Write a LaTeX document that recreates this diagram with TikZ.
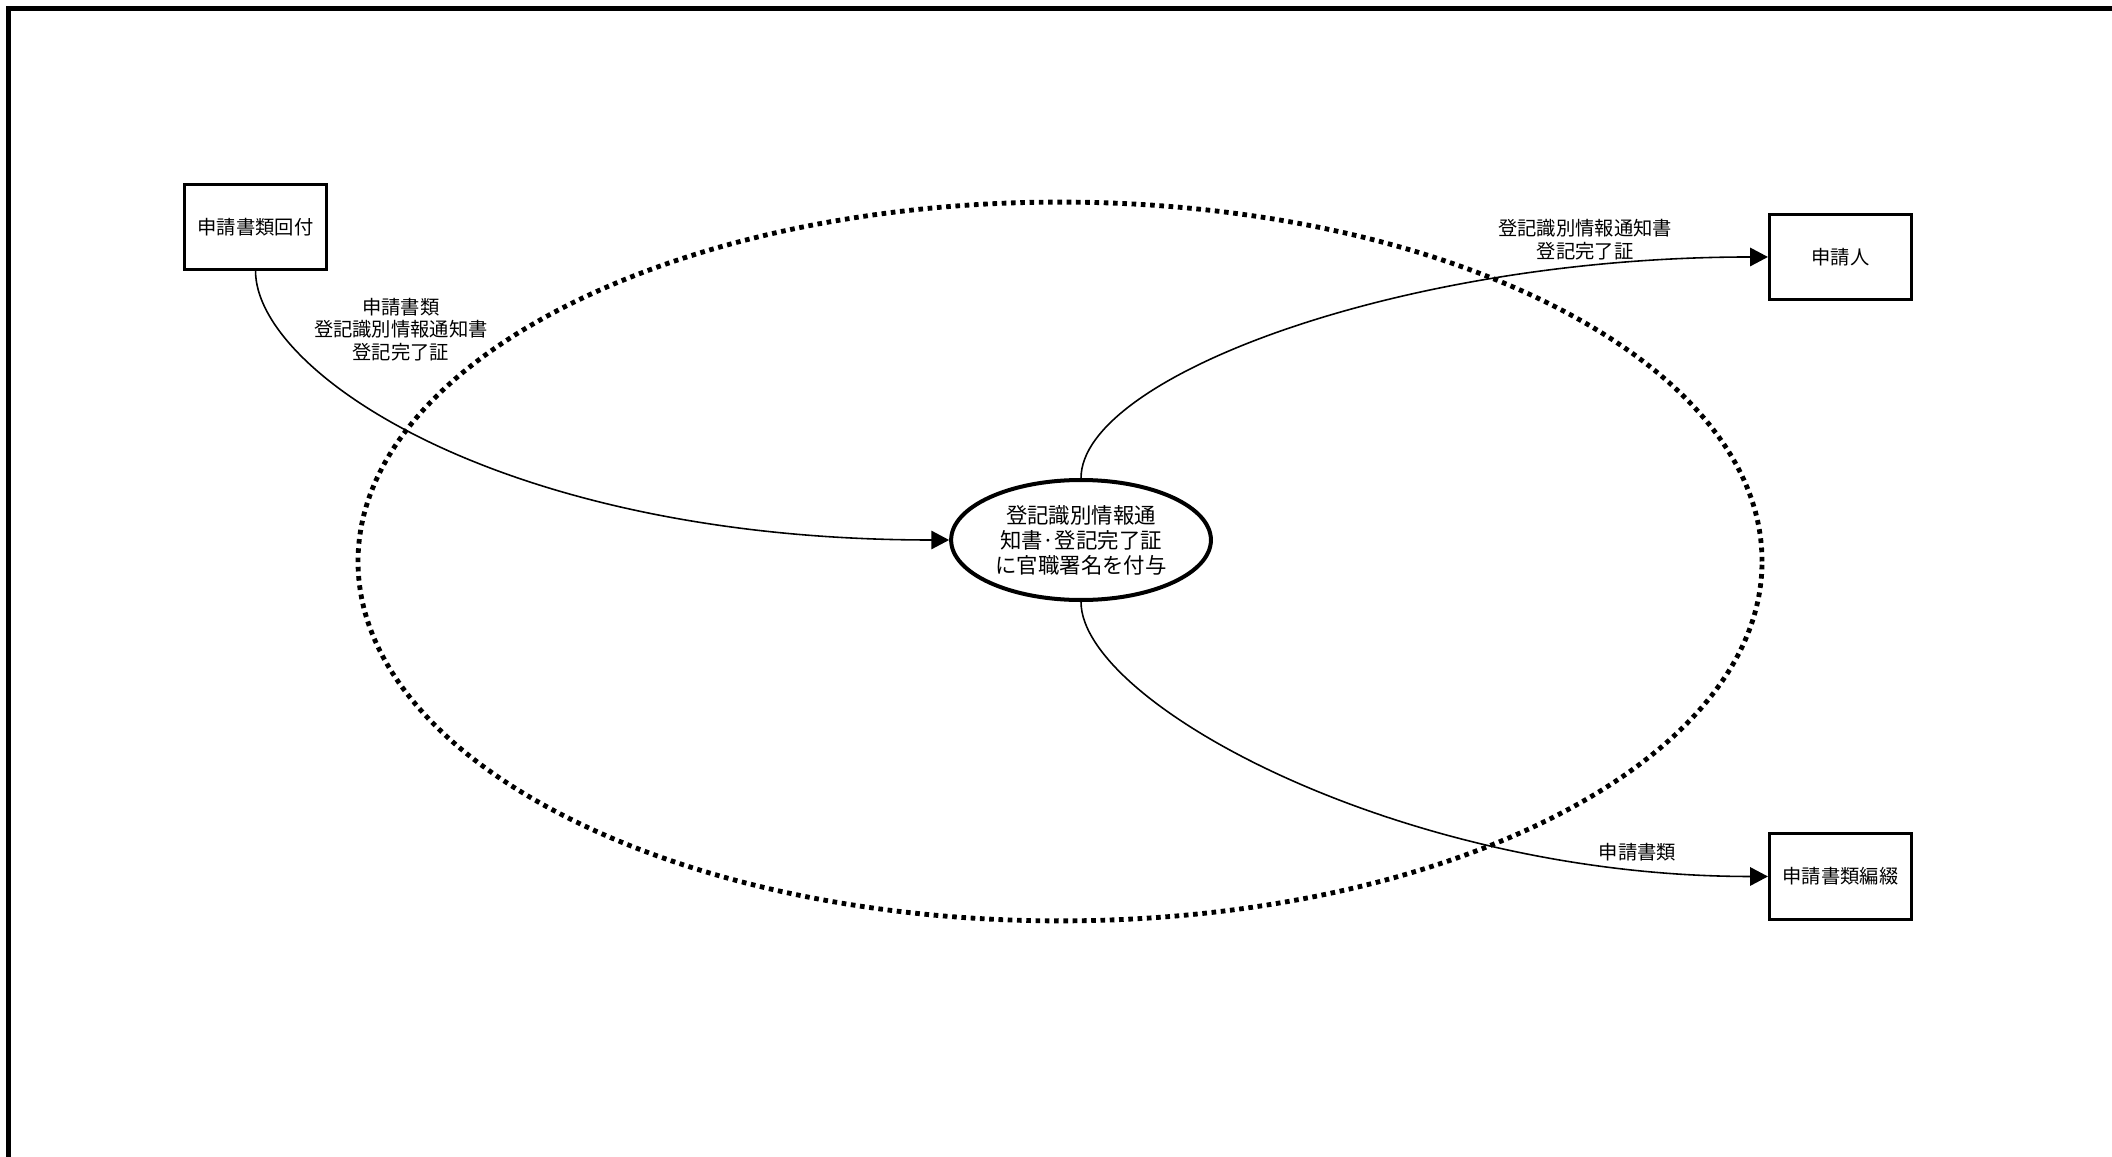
\documentclass[tikz,border=0pt]{standalone}
\usepackage{fontspec}
\setmainfont{Noto Sans CJK JP}
\usetikzlibrary{shapes.geometric,arrows.meta,positioning}

\begin{document}
\begin{tikzpicture}[
    node distance=9.25cm,
    terminal/.style={
        rectangle,
        draw=black,
        line width=1.4pt,
        minimum width=2.37cm,
        minimum height=1.42cm,
        align=center,
        font=\fontsize{9.15}{10.7}\selectfont,
        inner sep=2pt
    },
    process/.style={
        ellipse,
        draw=black,
        line width=1.9pt,
        minimum width=4.33cm,
        minimum height=2cm,
        align=center,
        font=\fontsize{10.15}{11.9}\selectfont,
        inner sep=0pt
    },
    boundary/.style={
        ellipse,
        draw=black,
        line width=2.3pt,
        dash pattern=on 2.2pt off 2.2pt,
        minimum width=23.4cm,
        minimum height=11.98cm,
        inner sep=0pt
    },
    frame/.style={line width=2.4pt},
    arr/.style={-{Triangle[length=8.4pt,width=8.7pt]}, line width=0.75pt},
    lbl/.style={font=\fontsize{9.15}{10.7}\selectfont, align=center, inner sep=2pt},
]
\useasboundingbox (0,0) rectangle (35.2,-19.2833);
\draw[frame] (0.1417,-19.2833) |- (35.2,-0.1417);

% nodes
\node[boundary] (office) at (17.667,-9.358) {};

\node[process] (sign) at (18.017,-9.0)
    {登記識別情報通\\知書·登記完了証\\に官職署名を付与};

\node[terminal, left=10.35cm of sign, yshift=5.217cm] (ret) {申請書類回付};

\node[terminal, right=of sign, yshift=4.717cm] (applicant) {申請人};

\node[terminal, right=of sign, yshift=-5.608cm] (bind) {申請書類編綴};

% arrows
\draw[arr] (ret.south) .. controls +(0,-1.667) and +(-7.5,0) .. (sign.west)
    node[lbl, pos=0.25, anchor=south west, xshift=4pt, yshift=-5pt]
    {申請書類\\登記識別情報通知書\\登記完了証};

\draw[arr] (sign.north) .. controls +(0,1.667) and +(-6.167,0) .. (applicant.west)
    node[lbl, pos=0.83, above, yshift=1pt]
    {登記識別情報通知書\\登記完了証};

\draw[arr] (sign.south) .. controls +(0,-1.667) and +(-6.167,0) .. (bind.west)
    node[lbl, pos=0.88, above, yshift=1.5pt]
    {申請書類};

\end{tikzpicture}
\end{document}
